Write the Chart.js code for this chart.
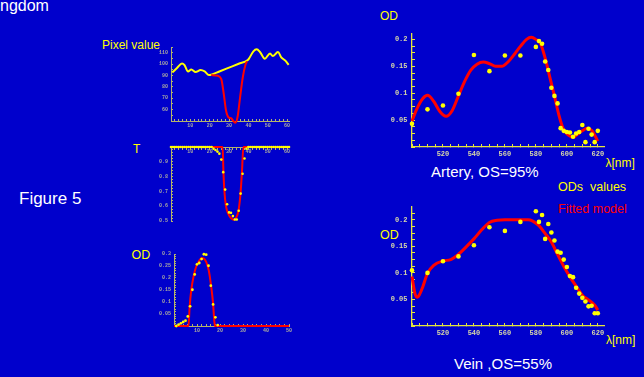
<!DOCTYPE html>
<html>
<head>
<meta charset="utf-8">
<script src="https://cdn.jsdelivr.net/npm/chart.js@4.4.1/dist/chart.umd.min.js"></script>
<style>
    html, body { margin: 0; padding: 0; }
    body { width: 644px; height: 377px; background: #0000cc; position: relative; overflow: hidden;
           font-family: "Liberation Sans", Arial, sans-serif; }
    canvas { position: absolute; }
    .t { position: absolute; line-height: 1; white-space: pre; }
    .y { color: #ffff00; }
    .w { color: #ffffff; }
</style>
</head>
<body>
<div class="t w" style="left:0px;top:-2.5px;font-size:16px">ngdom</div>
<div class="t y" style="left:102px;top:39px;font-size:12px">Pixel value</div>
<div class="t y" style="left:133px;top:142.7px;font-size:12px">T</div>
<div class="t w" style="left:19px;top:189.5px;font-size:17px">Figure 5</div>
<div class="t y" style="left:131.5px;top:249px;font-size:12.5px">OD</div>
<div class="t y" style="left:380px;top:10.4px;font-size:12px">OD</div>
<div class="t y" style="left:605.5px;top:157px;font-size:12px">λ[nm]</div>
<div class="t w" style="left:431px;top:164px;font-size:15px">Artery, OS=95%</div>
<div class="t y" style="left:558px;top:181.4px;font-size:12.5px">ODs  values</div>
<div class="t" style="left:558px;top:203.4px;font-size:12.5px;color:#ff0000">Fitted model</div>
<div class="t y" style="left:380px;top:229.4px;font-size:12.5px">OD</div>
<div class="t y" style="left:606px;top:333.5px;font-size:12px">λ[nm]</div>
<div class="t w" style="left:454px;top:356px;font-size:15px">Vein ,OS=55%</div>

<canvas id="pixelChart"></canvas>
<canvas id="tChart"></canvas>
<canvas id="odSmallChart"></canvas>
<canvas id="arteryChart"></canvas>
<canvas id="veinChart"></canvas>

<script>
// measured wavelengths (nm) shared by artery and vein
const wavelengths = [500, 510, 520, 530, 540, 550, 560, 570, 580, 582, 584, 586, 588, 590, 592, 594, 596, 598, 600, 602, 604, 606, 608, 610, 612, 614, 616, 618, 620];
const arteryOD = [0.043, 0.070, 0.077, 0.099, 0.171, 0.141, 0.170, 0.170, 0.186, 0.197, 0.192, 0.159, 0.143, 0.110, 0.095, 0.081, 0.035, 0.030, 0.028, 0.027, 0.019, 0.025, 0.028, 0.041, 0.009, 0.034, 0.023, 0.009, 0.030];
const veinOD = [0.105, 0.100, 0.122, 0.131, 0.152, 0.186, 0.179, 0.196, 0.216, 0.196, 0.209, 0.164, 0.192, 0.176, 0.161, 0.140, 0.138, 0.125, 0.111, 0.094, 0.092, 0.072, 0.061, 0.053, 0.046, 0.037, 0.038, 0.024, 0.024];

// fitted model curves
const arteryFitWl = [500, 503, 507, 510, 514, 518, 522, 526, 530, 534, 538, 542, 546, 550, 554, 558, 562, 566, 570, 574, 577, 580, 583, 586, 589, 592, 595, 598, 601, 604, 607, 610, 613, 616, 618, 620];
const arteryFit = [0.048, 0.070, 0.090, 0.096, 0.085, 0.066, 0.057, 0.068, 0.095, 0.122, 0.143, 0.154, 0.158, 0.155, 0.150, 0.150, 0.158, 0.172, 0.187, 0.200, 0.204, 0.200, 0.192, 0.165, 0.130, 0.095, 0.058, 0.032, 0.022, 0.018, 0.024, 0.030, 0.035, 0.031, 0.022, 0.011];
const veinFitWl = [500, 502, 503.5, 505, 507, 510, 514, 520, 525, 530, 535, 540, 545, 550, 555, 560, 565, 570, 575, 578, 582, 586, 590, 594, 598, 602, 606, 610, 614, 618, 620];
const veinFit = [0.093, 0.060, 0.054, 0.060, 0.074, 0.099, 0.114, 0.1225, 0.125, 0.135, 0.149, 0.164, 0.181, 0.195, 0.199, 0.200, 0.200, 0.200, 0.200, 0.1975, 0.189, 0.174, 0.158, 0.135, 0.1125, 0.0925, 0.075, 0.058, 0.049, 0.039, 0.030];

// pixel value profile across the vessel
const pixelPos = [0.7, 3.1, 5.7, 7, 8.8, 10.5, 12.7, 15.3, 17.4, 19.6, 20.8, 25, 30, 35, 39.7, 40.5, 42.6, 44.3, 46, 48.5, 51.2, 52.6, 55.3, 57, 59.1, 60.8];
const pixelVal = [92.6, 96.5, 100.6, 99, 93.5, 95.3, 93, 94.7, 93.5, 90.3, 90.6, 93.5, 96.9, 100.3, 103.5, 105.3, 111.2, 113, 110.6, 104.7, 109.4, 107, 110.6, 105.9, 103, 99.4];
const vesselPos = [20.8, 24.2, 26, 27.3, 28.5, 29.9, 31.1, 32.5, 33.3, 34.5, 35.7, 37.1, 38.5, 39.3];
const vesselVal = [90.3, 89.7, 86.8, 73.5, 58.8, 53, 52.4, 49.4, 48.5, 54.4, 70.6, 88.2, 99.4, 102.4];

// transmission
const tPos = [0, 1, 2, 3, 4, 5, 6, 7, 8, 9, 10, 11, 12, 13, 14, 15, 16, 17, 18, 19, 20, 21, 22, 23, 24, 25, 26, 27, 28, 29, 30, 31, 32, 33, 34, 35, 36, 37, 38, 39, 40, 41, 42, 43, 44, 45, 46, 47, 48, 49, 50, 51, 52, 53, 54, 55, 56, 57, 58, 59, 60, 61];
const tVal = [1, 1, 1, 1, 1, 1, 1, 1, 1, 1, 1, 1, 1, 1, 1, 1, 1, 1, 1, 1, 1, 1, 0.989, 0.98, 0.969, 0.955, 0.915, 0.83, 0.712, 0.613, 0.558, 0.555, 0.533, 0.51, 0.51, 0.569, 0.685, 0.819, 0.922, 0.989, 1, 1, 1, 1, 1, 1, 1, 1, 1, 1, 1, 1, 1, 1, 1, 1, 1, 1, 1, 1, 1, 1];
const tFitPos = [0, 26.7, 27.1, 27.6, 28.4, 29.7, 31, 32.4, 33.6, 34.8, 35.9, 36.7, 37.4, 61];
const tFit = [1, 1, 0.837, 0.703, 0.602, 0.546, 0.52, 0.508, 0.52, 0.564, 0.68, 0.837, 1, 1];

// optical density across the vessel
const odPos = [1, 2, 3, 4, 5, 6, 7, 8, 9, 10, 11, 12, 13, 14, 15, 16, 17, 18, 19];
const odVal = [0, 0.006, 0.011, 0.017, 0.022, 0.04, 0.082, 0.151, 0.215, 0.257, 0.2625, 0.279, 0.299, 0.297, 0.251, 0.168, 0.09, 0.036, 0.004];
const odFitPos = [0, 6.3, 6.8, 7.5, 8.6, 9.7, 10.9, 12, 13, 14, 15.1, 16.1, 17, 17.5, 17.8, 50];
const odFit = [0, 0, 0.079, 0.149, 0.211, 0.249, 0.271, 0.283, 0.281, 0.267, 0.232, 0.169, 0.093, 0.024, 0, 0];

// tick labels
const wlTicks = [520, 540, 560, 580, 600, 620];
const odBigTicks = [0.05, 0.1, 0.15, 0.2];
const posTicks = [10, 20, 30, 40, 50, 60];
const pixelTicks = [60, 70, 80, 90, 100, 110];
const tTicks = [0.5, 0.6, 0.7, 0.8, 0.9];
const odPosTicks = [10, 20, 30, 40, 50];
const odSmallTicks = [0.05, 0.1, 0.15, 0.2, 0.25, 0.3];

const YELLOW = '#ffff00';
const RED = '#ff0000';

function pts(xs, ys) {
    return xs.map((x, i) => ({ x: x, y: ys[i] }));
}

function labelFrom(majors) {
    return (v) => {
        const m = majors.find(t => Math.abs(t - v) < 1e-6);
        return m === undefined ? '' : String(m);
    };
}

function dots(xs, ys, r) {
    return {
        data: pts(xs, ys), showLine: false, pointRadius: r, pointBorderWidth: 0,
        pointBackgroundColor: YELLOW, clip: false
    };
}

function curve(xs, ys, color, w) {
    return {
        data: pts(xs, ys), borderColor: color, borderWidth: w, pointRadius: 0,
        cubicInterpolationMode: 'monotone', clip: false, fill: false
    };
}

// place a canvas so that its plot area lands on the given box
function plot(id, box, m, datasets, scales) {
    const cv = document.getElementById(id);
    cv.width = box.w + m.L + m.R;
    cv.height = box.h + m.T + m.B;
    cv.style.left = (box.left - m.L) + 'px';
    cv.style.top = (box.top - m.T) + 'px';
    new Chart(cv.getContext('2d'), {
        type: 'line',
        data: { datasets: datasets },
        options: {
            responsive: false,
            animation: false,
            events: [],
            layout: { padding: { left: 0, top: m.T, right: m.R, bottom: m.padB || 0 } },
            plugins: { legend: { display: false }, tooltip: { enabled: false } },
            scales: scales
        }
    });
}

function axis(opt) {
    return {
        type: 'linear',
        position: opt.position,
        min: opt.min, max: opt.max,
        border: { display: true, color: opt.color, width: opt.lw || 1 },
        grid: { display: true, drawOnChartArea: false, drawTicks: true, tickLength: opt.tl, color: opt.color },
        ticks: {
            autoSkip: false, maxRotation: 0, minRotation: 0,
            padding: opt.pad, color: opt.fontColor,
            font: { family: 'Liberation Mono', size: opt.fs, weight: 'bold' },
            callback: labelFrom(opt.majors)
        },
        // minor tick marks every opt.step, labels only on the majors
        afterBuildTicks: (s) => {
            const out = [];
            const first = Math.ceil(opt.min / opt.step - 1e-9);
            const last = Math.floor(opt.max / opt.step + 1e-9);
            for (let k = first; k <= last; k++) {
                out.push({ value: Math.round(k * opt.step * 1e6) / 1e6 });
            }
            s.ticks = out;
        },
        afterFit: (s) => {
            if (opt.size !== undefined) {
                if (s.isHorizontal()) { s.height = opt.size; } else { s.width = opt.size; }
            }
            s.paddingLeft = 0; s.paddingRight = 0; s.paddingTop = 0; s.paddingBottom = 0;
        }
    };
}

document.addEventListener('DOMContentLoaded', function () {
    const big = { L: 30, T: 6, R: 10, B: 14 };
    const small = { L: 22, T: 5, R: 6, B: 10 };
    const bigAxis = { color: '#e6e63c', fontColor: '#d8d8a8', fs: 7, tl: -3, lw: 1.3 };
    const smallAxis = { color: '#b4b46c', fontColor: '#a8a8a0', fs: 5, tl: -2, lw: 1 };

    plot('arteryChart', { left: 412, top: 34, w: 192, h: 113 }, big,
        [dots(wavelengths, arteryOD, 2.3), curve(arteryFitWl, arteryFit, RED, 3)],
        {
            x: axis(Object.assign({}, bigAxis, { position: 'bottom', min: 500, max: 624, step: 5, majors: wlTicks, pad: 6, size: big.B })),
            y: axis(Object.assign({}, bigAxis, { position: 'left', min: 0, max: 0.21, step: 0.0125, majors: odBigTicks, pad: 7.5, size: big.L }))
        });

    plot('veinChart', { left: 412, top: 207, w: 192, h: 119 }, big,
        [dots(wavelengths, veinOD, 2.3), curve(veinFitWl, veinFit, RED, 3)],
        {
            x: axis(Object.assign({}, bigAxis, { position: 'bottom', min: 500, max: 624, step: 5, majors: wlTicks, pad: 6, size: big.B })),
            y: axis(Object.assign({}, bigAxis, { position: 'left', min: 0, max: 0.224, step: 0.0125, majors: odBigTicks, pad: 7.5, size: big.L }))
        });

    plot('pixelChart', { left: 171, top: 47, w: 118, h: 74 }, small,
        [curve(vesselPos, vesselVal, RED, 2), curve(pixelPos, pixelVal, YELLOW, 2)],
        {
            x: axis(Object.assign({}, smallAxis, { position: 'bottom', min: 0, max: 61, step: 2, majors: posTicks, pad: 4, size: small.B })),
            y: axis(Object.assign({}, smallAxis, { position: 'left', min: 50, max: 115, step: 5, majors: pixelTicks, pad: 5, size: small.L }))
        });

    plot('tChart', { left: 171, top: 147, w: 118, h: 74 }, Object.assign({}, small, { B: 6, padB: 6 }),
        [dots(tPos, tVal, 1.3), curve(tFitPos, tFit, RED, 2)],
        {
            x: axis(Object.assign({}, smallAxis, { position: { y: 1 }, min: 0, max: 61, step: 2, majors: posTicks, tl: 2, pad: 0 })),
            y: axis(Object.assign({}, smallAxis, { position: 'left', min: 0.5, max: 1, step: 0.02, majors: tTicks, pad: 5, size: small.L }))
        });

    plot('odSmallChart', { left: 174, top: 254, w: 115, h: 72 }, small,
        [dots(odPos, odVal, 1.4), curve(odFitPos, odFit, RED, 2)],
        {
            x: axis(Object.assign({}, smallAxis, { position: 'bottom', min: 0, max: 50, step: 2, majors: odPosTicks, pad: 4, size: small.B })),
            y: axis(Object.assign({}, smallAxis, { position: 'left', min: 0, max: 0.3, step: 0.01, majors: odSmallTicks, pad: 5, size: small.L }))
        });
});
</script>
</body>
</html>
